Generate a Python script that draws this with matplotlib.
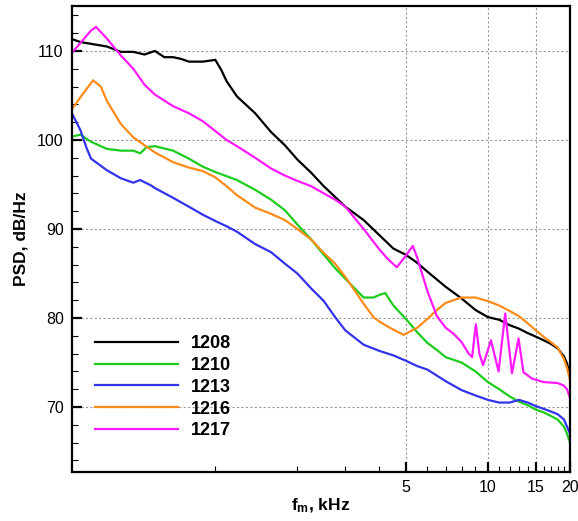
import matplotlib
matplotlib.use('Agg')
import matplotlib.pyplot as plt
from matplotlib.ticker import FixedLocator, NullFormatter

plt.rcParams['font.family'] = ['Liberation Sans', 'DejaVu Sans']
plt.rcParams['mathtext.fontset'] = 'custom'
plt.rcParams['mathtext.rm'] = 'Liberation Sans'
plt.rcParams['mathtext.bf'] = 'Liberation Sans:bold'

# 数据（从图上读取，f 单位 kHz，PSD 单位 dB/Hz）
f_1208 = [0.3, 0.32, 0.35, 0.4, 0.45, 0.5, 0.55, 0.6, 0.65, 0.7, 0.75, 0.8, 0.9, 1.0, 1.05, 1.1,
          1.2, 1.4, 1.6, 1.8, 2.0, 2.25, 2.5, 2.75, 3.0, 3.5, 4.0, 4.5, 5.0, 5.5, 6, 7, 8, 9, 10,
          11, 12, 13, 14, 15, 16, 17, 18, 19, 19.5, 20]
psd_1208 = [111.3, 111.0, 110.8, 110.5, 109.9, 109.9, 109.6, 110.0, 109.3, 109.3, 109.1, 108.8,
            108.8, 109.0, 107.9, 106.6, 104.9, 103.0, 100.9, 99.4, 97.8, 96.3, 94.8, 93.6, 92.5,
            91.0, 89.3, 87.8, 87.1, 86.2, 85.2, 83.5, 82.2, 80.9, 80.1, 79.8, 79.2, 78.8, 78.3,
            77.9, 77.5, 77.1, 76.6, 75.7, 74.9, 73.4]

f_1210 = [0.3, 0.32, 0.35, 0.4, 0.45, 0.5, 0.53, 0.56, 0.6, 0.7, 0.8, 0.9, 1.0, 1.2, 1.4, 1.6,
          1.8, 2.0, 2.25, 2.5, 2.75, 3.0, 3.5, 3.8, 4.0, 4.2, 4.5, 5.0, 5.5, 6, 6.5, 7, 8, 9, 10,
          11, 12, 13, 14, 15, 16, 17, 18, 19, 19.5, 20]
psd_1210 = [100.4, 100.6, 99.8, 99.0, 98.8, 98.8, 98.5, 99.2, 99.3, 98.8, 97.9, 97.0, 96.4, 95.5,
            94.4, 93.3, 92.1, 90.5, 88.8, 87.1, 85.6, 84.4, 82.3, 82.3, 82.6, 82.8, 81.4, 79.9,
            78.4, 77.2, 76.4, 75.6, 75.0, 74.0, 72.8, 72.0, 71.2, 70.6, 70.2, 69.7, 69.4, 69.0,
            68.6, 67.8, 67.0, 66.0]

f_1213 = [0.3, 0.32, 0.337, 0.35, 0.4, 0.45, 0.5, 0.53, 0.58, 0.6, 0.7, 0.8, 0.9, 1.0, 1.1, 1.2,
          1.4, 1.6, 1.8, 2.0, 2.25, 2.5, 2.75, 3.0, 3.5, 4.0, 4.5, 5.0, 5.5, 6, 7, 8, 9, 10, 11,
          12, 13, 14, 15, 16, 17, 18, 19, 19.5, 20]
psd_1213 = [102.8, 101.1, 99.1, 97.9, 96.6, 95.7, 95.2, 95.5, 94.9, 94.6, 93.5, 92.5, 91.6, 90.9,
            90.3, 89.7, 88.3, 87.4, 86.1, 85.0, 83.3, 81.9, 80.1, 78.6, 77.0, 76.3, 75.8, 75.2,
            74.6, 74.2, 72.9, 71.9, 71.3, 70.8, 70.5, 70.5, 70.8, 70.5, 70.1, 69.8, 69.5, 69.2,
            68.6, 67.8, 67.0]

f_1216 = [0.3, 0.32, 0.35, 0.356, 0.38, 0.4, 0.45, 0.5, 0.55, 0.6, 0.7, 0.8, 0.9, 1.0, 1.1, 1.2,
          1.4, 1.6, 1.8, 2.0, 2.25, 2.5, 2.75, 3.0, 3.5, 3.8, 4.0, 4.2, 4.5, 4.9, 5.5, 6, 6.5, 7,
          8, 9, 10, 11, 12, 13, 14, 15, 16, 17, 18, 19, 19.5, 20]
psd_1216 = [103.6, 104.8, 106.4, 106.7, 106.0, 104.4, 101.8, 100.3, 99.4, 98.6, 97.5, 96.9, 96.5,
            95.8, 94.8, 93.8, 92.4, 91.7, 91.0, 90.0, 88.8, 87.3, 86.1, 84.6, 81.6, 80.1, 79.6,
            79.2, 78.7, 78.1, 78.9, 79.9, 80.9, 81.7, 82.3, 82.3, 81.9, 81.4, 80.8, 80.2, 79.4,
            78.6, 77.9, 77.3, 76.7, 75.4, 74.4, 73.0]

f_1217 = [0.3, 0.32, 0.35, 0.365, 0.4, 0.45, 0.5, 0.55, 0.6, 0.7, 0.8, 0.9, 1.0, 1.1, 1.2, 1.4,
          1.6, 1.8, 2.0, 2.25, 2.5, 2.75, 3.0, 3.5, 4.0, 4.3, 4.63, 5.0, 5.3, 5.5, 6, 6.5, 7, 7.5,
          8, 8.5, 8.75, 9.03, 9.3, 9.6, 10.26, 10.94, 11.57, 12.25, 12.95, 13.5, 14.5, 16, 18,
          19, 19.5, 20]
psd_1217 = [109.9, 110.9, 112.3, 112.7, 111.4, 109.5, 108.0, 106.2, 105.1, 103.8, 103.0, 102.1,
            101.0, 100.0, 99.3, 98.0, 96.8, 96.0, 95.4, 94.8, 94.0, 93.3, 92.5, 90.0, 87.7, 86.6,
            85.7, 87.0, 88.1, 86.8, 83.0, 80.2, 78.9, 78.2, 77.3, 76.0, 75.6, 79.3, 76.0, 74.7,
            77.5, 74.0, 80.5, 73.8, 77.7, 73.9, 73.2, 72.8, 72.7, 72.4, 72.0, 71.0]

labels = ['1208', '1210', '1213', '1216', '1217']
colors = ['black', '#1ccc1c', '#3333ee', '#ff8c1a', '#ff1aff']

fig = plt.figure(figsize=(5.78, 5.21), dpi=100)
ax = fig.add_axes([72 / 578, 1 - 472 / 521, 498 / 578, 466 / 521])

series = [(f_1208, psd_1208), (f_1210, psd_1210), (f_1213, psd_1213),
          (f_1216, psd_1216), (f_1217, psd_1217)]
for (f, p), lab, c in zip(series, labels, colors):
    ax.plot(f, p, color=c, lw=1.6, label=lab)

ax.set_xscale('log')
ax.set_xlim(0.298, 20)
ax.set_ylim(62.7, 115.05)

ax.xaxis.set_major_locator(FixedLocator([5, 10, 15, 20]))
ax.xaxis.set_major_formatter(plt.FixedFormatter(['5', '10', '15', '20']))
ax.xaxis.set_minor_locator(FixedLocator([1, 2, 3, 4, 6, 7, 8, 9, 11, 12, 13, 14, 16, 17, 18, 19]))
ax.xaxis.set_minor_formatter(NullFormatter())
ax.yaxis.set_major_locator(FixedLocator([70, 80, 90, 100, 110]))
ax.yaxis.set_minor_locator(FixedLocator(list(range(64, 116, 2))))

ax.tick_params(which='major', direction='in', length=7.5, width=1.6, labelsize=11.5, pad=6)
ax.tick_params(which='minor', direction='in', length=4, width=0.8)
for s in ax.spines.values():
    s.set_linewidth(1.6)

ax.grid(True, which='major', color='#999999', linestyle=(0, (2, 2)), linewidth=0.8)

ax.set_xlabel(r'$\mathbf{f_m}$, kHz', fontsize=12.5, fontweight='bold', labelpad=1)
ax.set_ylabel('PSD, dB/Hz', fontsize=12.5, fontweight='bold', labelpad=6)

leg = ax.legend(loc='upper left', bbox_to_anchor=(0.046, 0.294), frameon=False,
                prop={'weight': 'bold', 'size': 13}, handlelength=4.6, handletextpad=0.7,
                labelspacing=0.27, borderpad=0, borderaxespad=0)

fig.savefig('out.png', dpi=100)
